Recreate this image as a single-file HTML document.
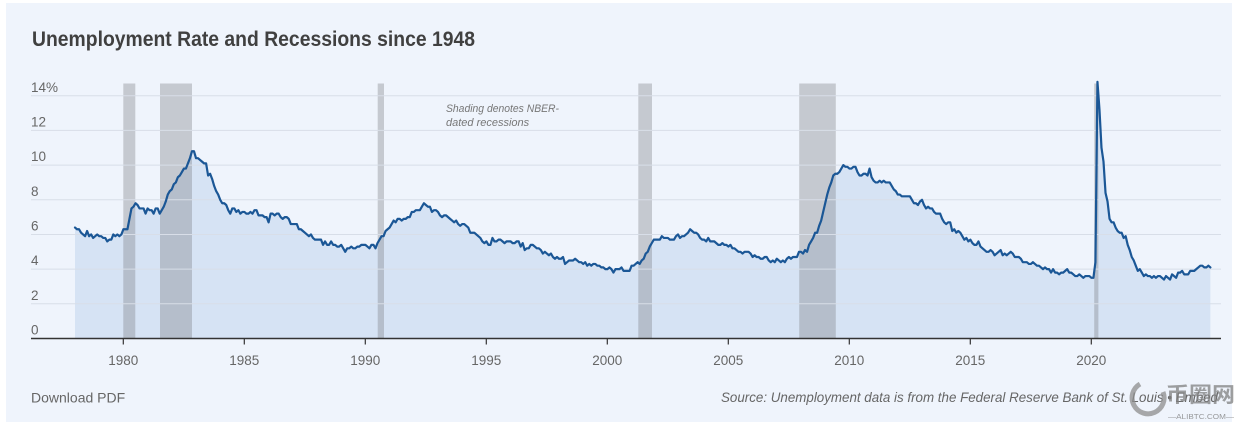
<!DOCTYPE html>
<html>
<head>
<meta charset="utf-8">
<style>
  html, body { margin: 0; padding: 0; background: #ffffff; }
  body { width: 1238px; height: 423px; overflow: hidden; position: relative; }
  svg { position: absolute; left: 0; top: 0; }
</style>
</head>
<body>
<svg width="1238" height="423" viewBox="0 0 1238 423" xmlns="http://www.w3.org/2000/svg">
  <rect x="6" y="3" width="1226" height="419" fill="#eff4fc"/>

  <text x="32" y="46" font-family="Liberation Sans, sans-serif" font-weight="bold" font-size="21" fill="#404040" textLength="443" lengthAdjust="spacingAndGlyphs">Unemployment Rate and Recessions since 1948</text>

  <!-- fill area -->
  <g transform="translate(75 338.5) scale(2.01667 -17.34)">
    <polygon fill="#d6e3f4" points="0,0 0,6.4 1,6.3 2,6.3 3,6.1 4,6.0 5,5.9 6,6.2 7,5.9 8,6.0 9,5.8 10,5.9 11,6.0 12,5.9 13,5.9 14,5.8 15,5.8 16,5.6 17,5.7 18,5.7 19,6.0 20,5.9 21,6.0 22,5.9 23,6.0 24,6.3 25,6.3 26,6.3 27,6.9 28,7.5 29,7.6 30,7.8 31,7.7 32,7.5 33,7.5 34,7.5 35,7.2 36,7.5 37,7.4 38,7.4 39,7.2 40,7.5 41,7.5 42,7.2 43,7.4 44,7.6 45,7.9 46,8.3 47,8.5 48,8.6 49,8.9 50,9.0 51,9.3 52,9.4 53,9.6 54,9.8 55,9.8 56,10.1 57,10.4 58,10.8 59,10.8 60,10.4 61,10.4 62,10.3 63,10.2 64,10.1 65,10.1 66,9.4 67,9.5 68,9.2 69,8.8 70,8.5 71,8.3 72,8.0 73,7.8 74,7.8 75,7.7 76,7.4 77,7.2 78,7.5 79,7.5 80,7.3 81,7.4 82,7.2 83,7.3 84,7.3 85,7.2 86,7.2 87,7.3 88,7.2 89,7.4 90,7.4 91,7.1 92,7.1 93,7.1 94,7.0 95,7.0 96,6.7 97,7.2 98,7.2 99,7.1 100,7.2 101,7.2 102,7.0 103,6.9 104,7.0 105,7.0 106,6.9 107,6.6 108,6.6 109,6.6 110,6.6 111,6.3 112,6.3 113,6.2 114,6.1 115,6.0 116,5.9 117,6.0 118,5.8 119,5.7 120,5.7 121,5.7 122,5.7 123,5.4 124,5.6 125,5.4 126,5.4 127,5.6 128,5.4 129,5.4 130,5.3 131,5.3 132,5.4 133,5.2 134,5.0 135,5.2 136,5.2 137,5.3 138,5.2 139,5.2 140,5.3 141,5.3 142,5.4 143,5.4 144,5.4 145,5.3 146,5.2 147,5.4 148,5.4 149,5.2 150,5.5 151,5.7 152,5.9 153,5.9 154,6.2 155,6.3 156,6.4 157,6.6 158,6.8 159,6.7 160,6.9 161,6.9 162,6.8 163,6.9 164,6.9 165,7.0 166,7.0 167,7.3 168,7.3 169,7.4 170,7.4 171,7.4 172,7.6 173,7.8 174,7.7 175,7.6 176,7.6 177,7.3 178,7.4 179,7.4 180,7.3 181,7.1 182,7.0 183,7.1 184,7.1 185,7.0 186,6.9 187,6.8 188,6.7 189,6.8 190,6.6 191,6.5 192,6.6 193,6.6 194,6.5 195,6.4 196,6.1 197,6.1 198,6.1 199,6.0 200,5.9 201,5.8 202,5.6 203,5.5 204,5.6 205,5.4 206,5.4 207,5.8 208,5.6 209,5.6 210,5.7 211,5.7 212,5.6 213,5.5 214,5.6 215,5.6 216,5.6 217,5.5 218,5.5 219,5.6 220,5.6 221,5.3 222,5.5 223,5.1 224,5.2 225,5.2 226,5.4 227,5.4 228,5.3 229,5.2 230,5.2 231,5.1 232,4.9 233,5.0 234,4.9 235,4.8 236,4.9 237,4.7 238,4.6 239,4.7 240,4.6 241,4.6 242,4.7 243,4.3 244,4.4 245,4.5 246,4.5 247,4.5 248,4.6 249,4.5 250,4.4 251,4.4 252,4.3 253,4.4 254,4.2 255,4.3 256,4.2 257,4.3 258,4.3 259,4.2 260,4.2 261,4.1 262,4.1 263,4.0 264,4.0 265,4.1 266,4.0 267,3.8 268,4.0 269,4.0 270,4.0 271,4.1 272,3.9 273,3.9 274,3.9 275,3.9 276,4.2 277,4.2 278,4.3 279,4.4 280,4.3 281,4.5 282,4.6 283,4.9 284,5.0 285,5.3 286,5.5 287,5.7 288,5.7 289,5.7 290,5.7 291,5.9 292,5.8 293,5.8 294,5.8 295,5.7 296,5.7 297,5.7 298,5.9 299,6.0 300,5.8 301,5.9 302,5.9 303,6.0 304,6.1 305,6.3 306,6.2 307,6.1 308,6.1 309,6.0 310,5.8 311,5.7 312,5.7 313,5.6 314,5.8 315,5.6 316,5.6 317,5.6 318,5.5 319,5.4 320,5.4 321,5.5 322,5.4 323,5.4 324,5.3 325,5.4 326,5.2 327,5.2 328,5.1 329,5.0 330,5.0 331,4.9 332,5.0 333,5.0 334,5.0 335,4.9 336,4.7 337,4.8 338,4.7 339,4.7 340,4.6 341,4.6 342,4.7 343,4.7 344,4.5 345,4.4 346,4.5 347,4.4 348,4.6 349,4.5 350,4.4 351,4.5 352,4.4 353,4.6 354,4.7 355,4.6 356,4.7 357,4.7 358,4.7 359,5.0 360,5.0 361,4.9 362,5.1 363,5.0 364,5.4 365,5.6 366,5.8 367,6.1 368,6.1 369,6.5 370,6.8 371,7.3 372,7.8 373,8.3 374,8.7 375,9.0 376,9.4 377,9.5 378,9.5 379,9.6 380,9.8 381,10.0 382,9.9 383,9.9 384,9.8 385,9.8 386,9.9 387,9.9 388,9.6 389,9.4 390,9.4 391,9.5 392,9.5 393,9.4 394,9.8 395,9.3 396,9.1 397,9.0 398,9.0 399,9.1 400,9.0 401,9.1 402,9.0 403,9.0 404,9.0 405,8.8 406,8.6 407,8.5 408,8.3 409,8.3 410,8.2 411,8.2 412,8.2 413,8.2 414,8.2 415,8.0 416,7.8 417,7.8 418,7.7 419,7.9 420,8.0 421,7.7 422,7.5 423,7.6 424,7.5 425,7.5 426,7.3 427,7.2 428,7.2 429,7.2 430,6.9 431,6.7 432,6.6 433,6.7 434,6.7 435,6.2 436,6.3 437,6.1 438,6.2 439,6.1 440,5.9 441,5.7 442,5.8 443,5.6 444,5.7 445,5.5 446,5.4 447,5.4 448,5.6 449,5.3 450,5.2 451,5.1 452,5.0 453,5.0 454,5.1 455,5.0 456,4.8 457,4.9 458,5.0 459,5.1 460,4.8 461,4.9 462,4.8 463,4.9 464,5.0 465,4.9 466,4.7 467,4.7 468,4.7 469,4.6 470,4.4 471,4.4 472,4.4 473,4.3 474,4.3 475,4.4 476,4.3 477,4.2 478,4.2 479,4.1 480,4.0 481,4.1 482,4.0 483,4.0 484,3.8 485,4.0 486,3.8 487,3.8 488,3.7 489,3.8 490,3.8 491,3.9 492,4.0 493,3.8 494,3.8 495,3.7 496,3.6 497,3.6 498,3.7 499,3.6 500,3.5 501,3.6 502,3.6 503,3.6 504,3.5 505,3.5 506,4.4 507,14.8 508,13.2 509,11.0 510,10.2 511,8.4 512,7.9 513,6.9 514,6.7 515,6.7 516,6.4 517,6.2 518,6.1 519,6.1 520,5.8 521,5.9 522,5.4 523,5.1 524,4.7 525,4.5 526,4.2 527,3.9 528,4.0 529,3.8 530,3.6 531,3.7 532,3.6 533,3.6 534,3.5 535,3.6 536,3.5 537,3.6 538,3.6 539,3.5 540,3.4 541,3.6 542,3.5 543,3.4 544,3.7 545,3.6 546,3.5 547,3.8 548,3.8 549,3.9 550,3.7 551,3.7 552,3.7 553,3.9 554,3.9 555,3.9 556,4.0 557,4.1 558,4.2 559,4.2 560,4.1 561,4.1 562,4.2 563,4.1 563,0"/>
  </g>

  <!-- recession bars -->
  <g fill="rgb(119,121,127)" fill-opacity="0.35">
    <rect x="123.3" y="83.5" width="12" height="255"/>
    <rect x="160" y="83.5" width="32" height="255"/>
    <rect x="377.7" y="83.5" width="6.3" height="255"/>
    <rect x="638.3" y="83.5" width="13.7" height="255"/>
    <rect x="799.2" y="83.5" width="36.6" height="255"/>
    <rect x="1094.2" y="83.5" width="4.2" height="255"/>
  </g>

  <!-- gridlines -->
  <g stroke="#d8dee8" stroke-width="1">
    <line x1="31" y1="95.7" x2="1221" y2="95.7"/>
    <line x1="31" y1="130.4" x2="1221" y2="130.4"/>
    <line x1="31" y1="165.1" x2="1221" y2="165.1"/>
    <line x1="31" y1="199.8" x2="1221" y2="199.8"/>
    <line x1="31" y1="234.5" x2="1221" y2="234.5"/>
    <line x1="31" y1="269.1" x2="1221" y2="269.1"/>
    <line x1="31" y1="303.8" x2="1221" y2="303.8"/>
  </g>

  <!-- y labels -->
  <g font-family="Liberation Sans, sans-serif" font-size="13.5" fill="#666">
    <text x="31" y="92">14%</text>
    <text x="31" y="126.5">12</text>
    <text x="31" y="161">10</text>
    <text x="31" y="195.8">8</text>
    <text x="31" y="230.5">6</text>
    <text x="31" y="265.2">4</text>
    <text x="31" y="299.9">2</text>
    <text x="31" y="334.5">0</text>
  </g>

  <!-- annotation -->
  <g font-family="Liberation Sans, sans-serif" font-style="italic" font-size="11" fill="#777">
    <text x="446" y="112" textLength="113" lengthAdjust="spacingAndGlyphs">Shading denotes NBER-</text>
    <text x="446" y="126">dated recessions</text>
  </g>

  <!-- series line -->
  <g transform="translate(75 338.5) scale(2.01667 -17.34)">
    <polyline fill="none" stroke="#1b5796" stroke-width="2.2" stroke-linejoin="round" stroke-linecap="round" vector-effect="non-scaling-stroke" points="0,6.4 1,6.3 2,6.3 3,6.1 4,6.0 5,5.9 6,6.2 7,5.9 8,6.0 9,5.8 10,5.9 11,6.0 12,5.9 13,5.9 14,5.8 15,5.8 16,5.6 17,5.7 18,5.7 19,6.0 20,5.9 21,6.0 22,5.9 23,6.0 24,6.3 25,6.3 26,6.3 27,6.9 28,7.5 29,7.6 30,7.8 31,7.7 32,7.5 33,7.5 34,7.5 35,7.2 36,7.5 37,7.4 38,7.4 39,7.2 40,7.5 41,7.5 42,7.2 43,7.4 44,7.6 45,7.9 46,8.3 47,8.5 48,8.6 49,8.9 50,9.0 51,9.3 52,9.4 53,9.6 54,9.8 55,9.8 56,10.1 57,10.4 58,10.8 59,10.8 60,10.4 61,10.4 62,10.3 63,10.2 64,10.1 65,10.1 66,9.4 67,9.5 68,9.2 69,8.8 70,8.5 71,8.3 72,8.0 73,7.8 74,7.8 75,7.7 76,7.4 77,7.2 78,7.5 79,7.5 80,7.3 81,7.4 82,7.2 83,7.3 84,7.3 85,7.2 86,7.2 87,7.3 88,7.2 89,7.4 90,7.4 91,7.1 92,7.1 93,7.1 94,7.0 95,7.0 96,6.7 97,7.2 98,7.2 99,7.1 100,7.2 101,7.2 102,7.0 103,6.9 104,7.0 105,7.0 106,6.9 107,6.6 108,6.6 109,6.6 110,6.6 111,6.3 112,6.3 113,6.2 114,6.1 115,6.0 116,5.9 117,6.0 118,5.8 119,5.7 120,5.7 121,5.7 122,5.7 123,5.4 124,5.6 125,5.4 126,5.4 127,5.6 128,5.4 129,5.4 130,5.3 131,5.3 132,5.4 133,5.2 134,5.0 135,5.2 136,5.2 137,5.3 138,5.2 139,5.2 140,5.3 141,5.3 142,5.4 143,5.4 144,5.4 145,5.3 146,5.2 147,5.4 148,5.4 149,5.2 150,5.5 151,5.7 152,5.9 153,5.9 154,6.2 155,6.3 156,6.4 157,6.6 158,6.8 159,6.7 160,6.9 161,6.9 162,6.8 163,6.9 164,6.9 165,7.0 166,7.0 167,7.3 168,7.3 169,7.4 170,7.4 171,7.4 172,7.6 173,7.8 174,7.7 175,7.6 176,7.6 177,7.3 178,7.4 179,7.4 180,7.3 181,7.1 182,7.0 183,7.1 184,7.1 185,7.0 186,6.9 187,6.8 188,6.7 189,6.8 190,6.6 191,6.5 192,6.6 193,6.6 194,6.5 195,6.4 196,6.1 197,6.1 198,6.1 199,6.0 200,5.9 201,5.8 202,5.6 203,5.5 204,5.6 205,5.4 206,5.4 207,5.8 208,5.6 209,5.6 210,5.7 211,5.7 212,5.6 213,5.5 214,5.6 215,5.6 216,5.6 217,5.5 218,5.5 219,5.6 220,5.6 221,5.3 222,5.5 223,5.1 224,5.2 225,5.2 226,5.4 227,5.4 228,5.3 229,5.2 230,5.2 231,5.1 232,4.9 233,5.0 234,4.9 235,4.8 236,4.9 237,4.7 238,4.6 239,4.7 240,4.6 241,4.6 242,4.7 243,4.3 244,4.4 245,4.5 246,4.5 247,4.5 248,4.6 249,4.5 250,4.4 251,4.4 252,4.3 253,4.4 254,4.2 255,4.3 256,4.2 257,4.3 258,4.3 259,4.2 260,4.2 261,4.1 262,4.1 263,4.0 264,4.0 265,4.1 266,4.0 267,3.8 268,4.0 269,4.0 270,4.0 271,4.1 272,3.9 273,3.9 274,3.9 275,3.9 276,4.2 277,4.2 278,4.3 279,4.4 280,4.3 281,4.5 282,4.6 283,4.9 284,5.0 285,5.3 286,5.5 287,5.7 288,5.7 289,5.7 290,5.7 291,5.9 292,5.8 293,5.8 294,5.8 295,5.7 296,5.7 297,5.7 298,5.9 299,6.0 300,5.8 301,5.9 302,5.9 303,6.0 304,6.1 305,6.3 306,6.2 307,6.1 308,6.1 309,6.0 310,5.8 311,5.7 312,5.7 313,5.6 314,5.8 315,5.6 316,5.6 317,5.6 318,5.5 319,5.4 320,5.4 321,5.5 322,5.4 323,5.4 324,5.3 325,5.4 326,5.2 327,5.2 328,5.1 329,5.0 330,5.0 331,4.9 332,5.0 333,5.0 334,5.0 335,4.9 336,4.7 337,4.8 338,4.7 339,4.7 340,4.6 341,4.6 342,4.7 343,4.7 344,4.5 345,4.4 346,4.5 347,4.4 348,4.6 349,4.5 350,4.4 351,4.5 352,4.4 353,4.6 354,4.7 355,4.6 356,4.7 357,4.7 358,4.7 359,5.0 360,5.0 361,4.9 362,5.1 363,5.0 364,5.4 365,5.6 366,5.8 367,6.1 368,6.1 369,6.5 370,6.8 371,7.3 372,7.8 373,8.3 374,8.7 375,9.0 376,9.4 377,9.5 378,9.5 379,9.6 380,9.8 381,10.0 382,9.9 383,9.9 384,9.8 385,9.8 386,9.9 387,9.9 388,9.6 389,9.4 390,9.4 391,9.5 392,9.5 393,9.4 394,9.8 395,9.3 396,9.1 397,9.0 398,9.0 399,9.1 400,9.0 401,9.1 402,9.0 403,9.0 404,9.0 405,8.8 406,8.6 407,8.5 408,8.3 409,8.3 410,8.2 411,8.2 412,8.2 413,8.2 414,8.2 415,8.0 416,7.8 417,7.8 418,7.7 419,7.9 420,8.0 421,7.7 422,7.5 423,7.6 424,7.5 425,7.5 426,7.3 427,7.2 428,7.2 429,7.2 430,6.9 431,6.7 432,6.6 433,6.7 434,6.7 435,6.2 436,6.3 437,6.1 438,6.2 439,6.1 440,5.9 441,5.7 442,5.8 443,5.6 444,5.7 445,5.5 446,5.4 447,5.4 448,5.6 449,5.3 450,5.2 451,5.1 452,5.0 453,5.0 454,5.1 455,5.0 456,4.8 457,4.9 458,5.0 459,5.1 460,4.8 461,4.9 462,4.8 463,4.9 464,5.0 465,4.9 466,4.7 467,4.7 468,4.7 469,4.6 470,4.4 471,4.4 472,4.4 473,4.3 474,4.3 475,4.4 476,4.3 477,4.2 478,4.2 479,4.1 480,4.0 481,4.1 482,4.0 483,4.0 484,3.8 485,4.0 486,3.8 487,3.8 488,3.7 489,3.8 490,3.8 491,3.9 492,4.0 493,3.8 494,3.8 495,3.7 496,3.6 497,3.6 498,3.7 499,3.6 500,3.5 501,3.6 502,3.6 503,3.6 504,3.5 505,3.5 506,4.4 507,14.8 508,13.2 509,11.0 510,10.2 511,8.4 512,7.9 513,6.9 514,6.7 515,6.7 516,6.4 517,6.2 518,6.1 519,6.1 520,5.8 521,5.9 522,5.4 523,5.1 524,4.7 525,4.5 526,4.2 527,3.9 528,4.0 529,3.8 530,3.6 531,3.7 532,3.6 533,3.6 534,3.5 535,3.6 536,3.5 537,3.6 538,3.6 539,3.5 540,3.4 541,3.6 542,3.5 543,3.4 544,3.7 545,3.6 546,3.5 547,3.8 548,3.8 549,3.9 550,3.7 551,3.7 552,3.7 553,3.9 554,3.9 555,3.9 556,4.0 557,4.1 558,4.2 559,4.2 560,4.1 561,4.1 562,4.2 563,4.1"/>
  </g>

  <!-- x axis -->
  <line x1="31" y1="338.5" x2="1221" y2="338.5" stroke="#333" stroke-width="1.5"/>
  <g stroke="#333" stroke-width="1.2">
    <line x1="123.3" y1="338.5" x2="123.3" y2="344.5"/>
    <line x1="244.3" y1="338.5" x2="244.3" y2="344.5"/>
    <line x1="365.3" y1="338.5" x2="365.3" y2="344.5"/>
    <line x1="486.3" y1="338.5" x2="486.3" y2="344.5"/>
    <line x1="607.3" y1="338.5" x2="607.3" y2="344.5"/>
    <line x1="728.3" y1="338.5" x2="728.3" y2="344.5"/>
    <line x1="849.3" y1="338.5" x2="849.3" y2="344.5"/>
    <line x1="970.3" y1="338.5" x2="970.3" y2="344.5"/>
    <line x1="1091.3" y1="338.5" x2="1091.3" y2="344.5"/>
  </g>
  <g font-family="Liberation Sans, sans-serif" font-size="13.5" fill="#666" text-anchor="middle">
    <text x="123.3" y="365">1980</text>
    <text x="244.3" y="365">1985</text>
    <text x="365.3" y="365">1990</text>
    <text x="486.3" y="365">1995</text>
    <text x="607.3" y="365">2000</text>
    <text x="728.3" y="365">2005</text>
    <text x="849.3" y="365">2010</text>
    <text x="970.3" y="365">2015</text>
    <text x="1091.3" y="365">2020</text>
  </g>

  <!-- footer -->
  <text x="31" y="402.5" font-family="Liberation Sans, sans-serif" font-size="14" fill="#666">Download PDF</text>
  <text x="721" y="402" font-family="Liberation Sans, sans-serif" font-style="italic" font-size="14" fill="#666" textLength="497" lengthAdjust="spacingAndGlyphs">Source: Unemployment data is from the Federal Reserve Bank of St. Louis • Embed</text>

  <!-- watermark -->
  <g opacity="0.75">
    <path d="M1140 384 A16 16 0 1 0 1163 392" fill="none" stroke="#8e8e8e" stroke-width="5"/>
    <text x="1166" y="402" font-family="Liberation Sans, 'Noto Sans CJK SC', sans-serif" font-size="21" font-weight="bold" fill="#808080" textLength="69" lengthAdjust="spacingAndGlyphs">币圈网</text>
    <text x="1168" y="419" font-family="Liberation Sans, sans-serif" font-size="7.5" fill="#7a7a7a" textLength="66" lengthAdjust="spacingAndGlyphs">—ALIBTC.COM—</text>
  </g>
</svg>
</body>
</html>
